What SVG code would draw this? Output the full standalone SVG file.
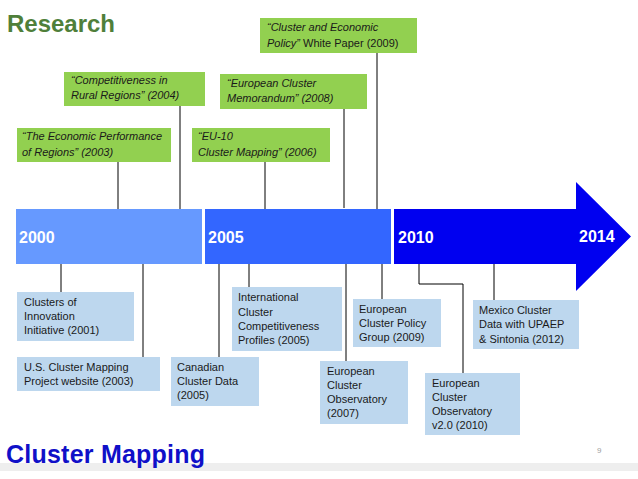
<svg xmlns="http://www.w3.org/2000/svg" width="638" height="479" viewBox="0 0 638 479">
<style>
text{font-family:"Liberation Sans",Arial,sans-serif;}
.g{fill:#92d050;}
.b{fill:#bdd7ee;}
.gt{font-size:11px;font-style:italic;fill:#1a1a1a;}
.bt{font-size:11px;fill:#1a1a1a;}
.yr{font-size:16px;font-weight:bold;fill:#ffffff;}
.ln{stroke:#000;stroke-width:1;fill:none;}
</style>
<rect x="0" y="0" width="638" height="479" fill="#ffffff"/>
<rect x="0" y="463" width="638" height="8" fill="#eeeeee"/>
<text x="7" y="32" font-size="24" font-weight="bold" fill="#4f7f3a" textLength="108">Research</text>
<text x="6" y="463" font-size="25" font-weight="bold" fill="#1010c8" textLength="199">Cluster Mapping</text>
<text x="597" y="453" font-size="8" fill="#a0a0a0">9</text>

<g id="connectors">
<path class="ln" d="M118 162V209M180 106V209M265 162V209M344 109V208M377 53V209"/>
<path class="ln" d="M61 264V292M143 264V357M219 264V357M249 264V287M346 264V361M382 264V299M419 264V284H463V373M494 264V300"/>
</g>

<g id="timeline">
<rect x="16" y="209" width="186" height="55" fill="#6699ff"/>
<rect x="205" y="209" width="186" height="55" fill="#3366ff"/>
<polygon points="394,209 576,209 576,182 631,236.5 576,291 576,264 394,264" fill="#0000f0"/>
<text class="yr" x="19" y="243">2000</text>
<text class="yr" x="208" y="243">2005</text>
<text class="yr" x="398" y="243">2010</text>
<text class="yr" x="579" y="242">2014</text>
</g>

<g id="r2003"><rect class="g" x="17" y="128" width="154" height="34"/>
<text class="gt" x="22" y="140">“The Economic Performance</text>
<text class="gt" x="22" y="156">of Regions” (2003)</text></g>

<g id="r2004"><rect class="g" x="64" y="72" width="141" height="34"/>
<text class="gt" x="71" y="84">“Competitiveness in</text>
<text class="gt" x="71" y="99">Rural Regions” (2004)</text></g>

<g id="r2006"><rect class="g" x="192" y="128" width="138" height="34"/>
<text class="gt" x="198" y="140">“EU-10</text>
<text class="gt" x="198" y="156">Cluster Mapping” (2006)</text></g>

<g id="r2008"><rect class="g" x="220" y="74" width="147" height="35"/>
<text class="gt" x="227" y="87">“European Cluster</text>
<text class="gt" x="227" y="102">Memorandum” (2008)</text></g>

<g id="r2009"><rect class="g" x="260" y="18" width="157" height="35"/>
<text class="gt" x="267" y="31">“Cluster and Economic</text>
<text class="bt" x="267" y="47"><tspan font-style="italic">Policy”</tspan> White Paper  (2009)</text></g>

<g id="m2001"><rect class="b" x="17" y="292" width="117" height="49"/>
<text class="bt" x="24" y="306">Clusters of</text>
<text class="bt" x="24" y="320">Innovation</text>
<text class="bt" x="24" y="334">Initiative (2001)</text></g>

<g id="m2003"><rect class="b" x="17" y="357" width="143" height="34"/>
<text class="bt" x="24" y="371">U.S. Cluster Mapping</text>
<text class="bt" x="24" y="385">Project  website (2003)</text></g>

<g id="m2005a"><rect class="b" x="171" y="357" width="88" height="49"/>
<text class="bt" x="177" y="371">Canadian</text>
<text class="bt" x="177" y="385">Cluster Data</text>
<text class="bt" x="177" y="399">(2005)</text></g>

<g id="m2005b"><rect class="b" x="232" y="287" width="110" height="64"/>
<text class="bt" x="238" y="301">International</text>
<text class="bt" x="238" y="316">Cluster</text>
<text class="bt" x="238" y="330">Competitiveness</text>
<text class="bt" x="238" y="344">Profiles (2005)</text></g>

<g id="m2009"><rect class="b" x="353" y="299" width="88" height="48"/>
<text class="bt" x="359" y="313">European</text>
<text class="bt" x="359" y="327">Cluster Policy</text>
<text class="bt" x="359" y="341">Group (2009)</text></g>

<g id="m2007"><rect class="b" x="320" y="361" width="88" height="63"/>
<text class="bt" x="327" y="375">European</text>
<text class="bt" x="327" y="389">Cluster</text>
<text class="bt" x="327" y="403">Observatory</text>
<text class="bt" x="327" y="417">(2007)</text></g>

<g id="m2010"><rect class="b" x="425" y="373" width="95" height="62"/>
<text class="bt" x="432" y="387">European</text>
<text class="bt" x="432" y="401">Cluster</text>
<text class="bt" x="432" y="415">Observatory</text>
<text class="bt" x="432" y="429">v2.0 (2010)</text></g>

<g id="m2012"><rect class="b" x="473" y="300" width="106" height="49"/>
<text class="bt" x="479" y="314">Mexico Cluster</text>
<text class="bt" x="479" y="328">Data  with UPAEP</text>
<text class="bt" x="479" y="343">&amp; Sintonia (2012)</text></g>
</svg>
